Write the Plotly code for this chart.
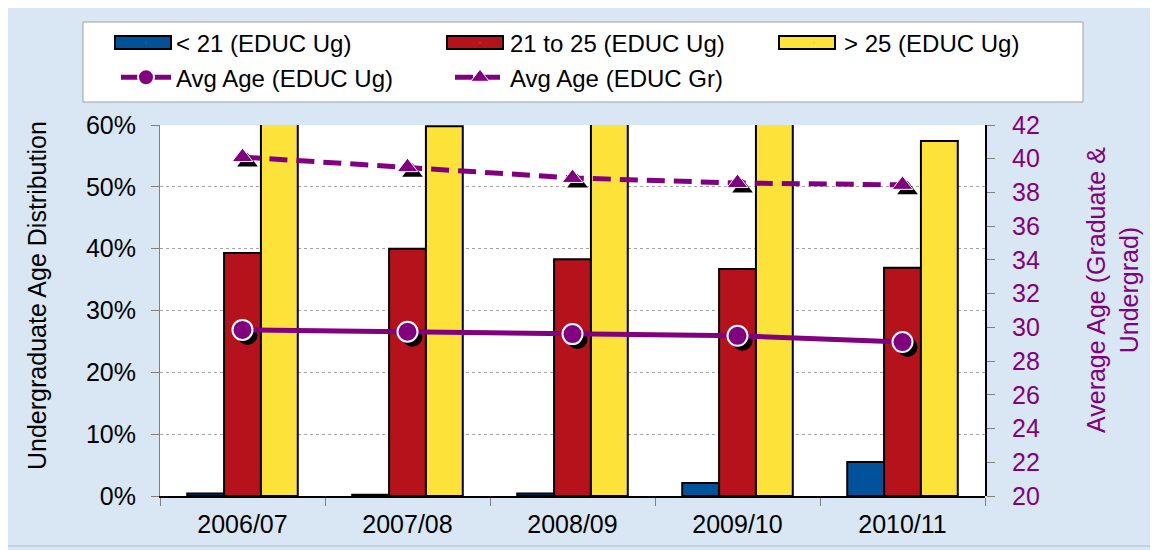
import plotly.graph_objects as go

years = ["2006/07", "2007/08", "2008/09", "2009/10", "2010/11"]
under21 = [0.004, 0.002, 0.004, 0.021, 0.055]
age21_25 = [0.393, 0.400, 0.383, 0.367, 0.369]
over25 = [0.62, 0.598, 0.615, 0.62, 0.574]
avg_age_ug = [29.85, 29.74, 29.6, 29.5, 29.13]
avg_age_gr = [40.1, 39.5, 38.86, 38.56, 38.45]

bar_names = ["< 21 (EDUC Ug)", "21 to 25 (EDUC Ug)", "> 25 (EDUC Ug)"]
bar_colors = ["#00529b", "#b5121b", "#fde23a"]
line_names = ["Avg Age (EDUC Ug)", "Avg Age (EDUC Gr)"]

PURPLE = "#800080"
FONT = "Liberation Sans, Arial, sans-serif"

W, H = 1158, 550
OFF = 8  # page body margin
SH = 5   # shadow offset px
L, T = 160 - OFF, 125 - OFF
R = W - (985 - OFF + SH)
B = H - (496 - OFF + SH)
PW = W - L - R
PH = H - T - B
dx = SH / PW
dy = SH / PH


def px_x(xs):
    return (xs - OFF - L) / PW


def px_y(ys):
    return (T + PH - (ys - OFF)) / PH


fig = go.Figure()

for name, vals, color in zip(bar_names, [under21, age21_25, over25], bar_colors):
    fig.add_trace(go.Bar(
        x=years, y=vals, name=name, showlegend=False,
        marker=dict(color=color, line=dict(color="black", width=2)),
        xaxis="x", yaxis="y",
    ))

# legend entries for bars (swatches drawn as shapes below)
for name in bar_names:
    fig.add_trace(go.Scatter(
        x=[None], y=[None], mode="markers", name=name,
        marker=dict(size=1, opacity=0), hoverinfo="skip",
        xaxis="x", yaxis="y",
    ))

# shadows of markers (offset subplot)
fig.add_trace(go.Scatter(
    x=years, y=avg_age_ug, mode="markers", showlegend=False, hoverinfo="skip",
    marker=dict(symbol="circle", size=20, color="black"),
    xaxis="x2", yaxis="y2",
))
fig.add_trace(go.Scatter(
    x=years, y=avg_age_gr, mode="markers", showlegend=False, hoverinfo="skip",
    marker=dict(symbol="triangle-up", size=18, color="black"),
    xaxis="x2", yaxis="y2",
))

fig.add_trace(go.Scatter(
    x=years, y=avg_age_ug, mode="lines+markers", name=line_names[0],
    line=dict(color=PURPLE, width=5),
    marker=dict(symbol="circle", size=20, color=PURPLE, line=dict(color="white", width=2)),
    xaxis="x3", yaxis="y3",
))
fig.add_trace(go.Scatter(
    x=years, y=avg_age_gr, mode="lines+markers", name=line_names[1],
    line=dict(color=PURPLE, width=5, dash="18px,9px"),
    marker=dict(symbol="triangle-up", size=18, color=PURPLE, line=dict(color="white", width=1)),
    xaxis="x3", yaxis="y3",
))

swatch_x = [115, 447, 779]
shapes = [
    dict(type="rect", xref="paper", yref="paper", layer="below",
         x0=0, x1=1 - dx, y0=dy, y1=1, fillcolor="white", line=dict(width=0)),
    dict(type="rect", xref="paper", yref="paper", layer="below",
         x0=px_x(83), x1=px_x(1083), y0=px_y(102), y1=px_y(22),
         fillcolor="white", line=dict(color="#a0a0a0", width=1)),
    dict(type="rect", xref="paper", yref="paper", layer="below",
         x0=px_x(4), x1=px_x(1154), y0=px_y(546), y1=px_y(4),
         fillcolor="rgba(0,0,0,0)", line=dict(color="#b0bccc", width=1)),
]
for sx, color in zip(swatch_x, bar_colors):
    shapes.append(dict(type="rect", xref="paper", yref="paper", layer="above",
                       x0=px_x(sx), x1=px_x(sx + 56), y0=px_y(49), y1=px_y(36),
                       fillcolor=color, line=dict(color="black", width=2)))

xr = [-0.5, 4.5]
fig.update_layout(
    width=W, height=H,
    margin=dict(l=L, r=R, t=T, b=B, autoexpand=False),
    paper_bgcolor="#d9e6f3",
    plot_bgcolor="rgba(0,0,0,0)",
    font=dict(family=FONT, size=25, color="black"),
    barmode="group", bargap=0.33, bargroupgap=0,
    xaxis=dict(
        domain=[0, 1 - dx], range=xr, type="category", automargin=False,
        showline=True, linecolor="black", linewidth=2,
        ticks="outside", tickson="boundaries", ticklen=8, tickcolor="#808080",
        showgrid=False, tickfont=dict(size=25), ticklabelstandoff=5,
    ),
    yaxis=dict(
        domain=[dy, 1], range=[0, 0.6], tickformat=".0%", dtick=0.1, automargin=False,
        showline=True, linecolor="#808080", linewidth=1,
        ticks="outside", ticklen=8, tickcolor="#808080",
        showgrid=True, gridcolor="#a6a6a6", griddash="dot", gridwidth=1,
        zeroline=False, tickfont=dict(size=25), ticklabelstandoff=10,
    ),
    xaxis2=dict(domain=[dx, 1], range=xr, type="category", visible=False, anchor="y2"),
    yaxis2=dict(domain=[0, 1 - dy], range=[20, 42], visible=False, anchor="x2"),
    xaxis3=dict(domain=[0, 1 - dx], range=xr, type="category", visible=False, anchor="y3"),
    yaxis3=dict(
        domain=[dy, 1], range=[20, 42], dtick=2, anchor="x3", side="right", automargin=False,
        showline=True, linecolor="black", linewidth=2,
        ticks="outside", ticklen=8, tickcolor="#808080",
        showgrid=False, zeroline=False, ticklabelstandoff=12,
        tickfont=dict(color=PURPLE, size=25),
    ),
    legend=dict(
        orientation="h", x=px_x(1118), xanchor="right",
        y=px_y(21), yanchor="top",
        bgcolor="rgba(0,0,0,0)", borderwidth=0,
        itemwidth=50,
        entrywidth=269, entrywidthmode="pixels",
        font=dict(size=24), traceorder="normal",
    ),
    annotations=[
        dict(text="Undergraduate Age Distribution", xref="paper", yref="paper",
             x=px_x(37), y=px_y(296), xanchor="center", yanchor="middle",
             textangle=-90, showarrow=False, font=dict(size=25, color="black")),
        dict(text="Average Age (Graduate &<br>Undergrad)", xref="paper", yref="paper",
             x=px_x(1112), y=px_y(290), xanchor="center", yanchor="middle",
             textangle=-90, showarrow=False, font=dict(size=25, color=PURPLE)),
    ],
    shapes=shapes,
)

fig.write_html("out.html")
